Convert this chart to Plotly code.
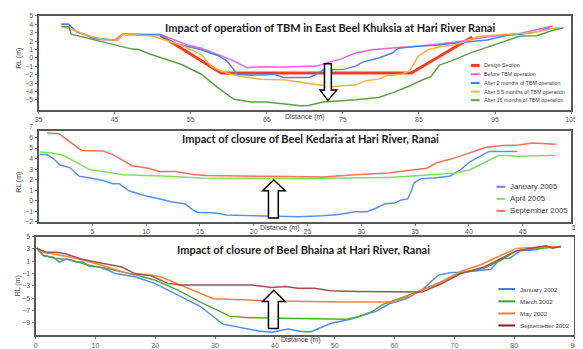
import plotly.graph_objects as go

W, H = 583, 349
OFF = 8  # default page body margin in the browser

# ---------------- Panel 1 data (East Beel Khuksia) ----------------
p1_design_x = [51, 59, 84, 92]
p1_design_y = [2.7, -1.8, -1.8, 2.5]

p1_before_x = [38, 39, 40, 41.5, 43, 45, 46, 51, 52.9, 54.7, 56.4, 58.6, 60.3, 62.4, 64.2, 67.1, 69.4, 71.5, 73.2, 74.5, 76.7, 78.9, 81.0, 85.3, 89.7, 94.0, 98.3, 101.8, 102.6]
p1_before_y = [4.0, 4.0, 3.1, 2.6, 2.2, 2.1, 2.83, 2.8, 2.13, 1.5, 1.16, 0.38, -0.2, -1.16, -1.05, -1.08, -1.05, -0.97, -0.5, -0.2, 0.58, 0.97, 1.16, 1.43, 1.86, 2.52, 2.9, 3.6, 3.8]

p1_m2_x = [38, 38.9, 40, 41.3, 42.1, 43.5, 45.4, 46.1, 51, 52.9, 56.4, 58.6, 59.8, 61.1, 62.9, 65.0, 65.9, 67.2, 70.6, 71.5, 72.4, 75.0, 76.7, 77.6, 79.7, 81.5, 82.3, 84.5, 87.5, 90.5, 94.0, 96.6, 98.3, 100.5, 102.2]
p1_m2_y = [4.0, 4.0, 3.1, 2.75, 2.33, 2.2, 2.1, 2.83, 2.75, 1.74, 0.97, 0.27, -0.38, -1.94, -2.05, -2.0, -1.94, -2.33, -2.33, -1.94, -1.43, -1.36, -0.97, -0.5, 0.0, 0.58, 1.16, 1.36, 1.55, 1.83, 2.13, 2.7, 2.83, 3.1, 3.6]

p1_m55_x = [38, 39.5, 41.7, 43.5, 45.4, 46.1, 50, 54.2, 56.4, 57.7, 59.0, 60.3, 62.0, 64.2, 67.2, 69.4, 71.5, 73.7, 75.8, 76.7, 78.0, 79.7, 80.8, 82.7, 83.8, 84.9, 86.2, 87.9, 89.7, 91.4, 92.7, 94.8, 96.6, 100, 102.6, 103.5]
p1_m55_y = [3.8, 3.36, 2.6, 2.2, 2.1, 2.83, 2.6, 1.36, 0.38, -0.97, -1.55, -1.94, -2.25, -2.52, -2.6, -2.91, -3.17, -3.41, -3.3, -3.2, -2.7, -2.52, -2.13, -1.94, -1.55, 0.2, 0.97, 1.36, 1.55, 2.13, 2.52, 2.7, 2.83, 3.0, 3.5, 3.6]

p1_m16_x = [38, 39, 39.3, 42.1, 44.7, 47.3, 48.2, 49.5, 51.2, 53.8, 56.4, 58.5, 60.7, 62.9, 65.0, 67.2, 69.4, 70.5, 72.4, 76.7, 79.7, 81.5, 83.6, 85.5, 86.6, 87.7, 89.7, 91.8, 94.0, 96.3, 98.3, 100.5, 102.6, 104]
p1_m16_y = [3.7, 3.7, 2.83, 2.2, 1.55, 1.05, 1.0, 0.5, 0.0, -0.78, -1.94, -3.5, -4.92, -5.23, -5.23, -5.43, -5.7, -5.65, -5.23, -4.96, -4.7, -4.15, -3.4, -2.6, -2.2, -0.85, -0.2, 0.6, 1.3, 2.0, 2.6, 2.65, 3.3, 3.6]

p1_names = ["Design Section", "Before TBM operation", "After 2 months of TBM operation",
            "After 5.5 months of TBM operation", "After 16 months of TBM operation"]
p1_colors = ["#FF3B1F", "#F063D8", "#4A86E8", "#FFB040", "#5E9E45"]
p1_series = [(p1_design_x, p1_design_y), (p1_before_x, p1_before_y), (p1_m2_x, p1_m2_y),
             (p1_m55_x, p1_m55_y), (p1_m16_x, p1_m16_y)]
p1_widths = [3, 1.5, 1.5, 1.5, 1.5]
p1_xticks = [35, 45, 55, 65, 75, 85, 95, 105]
p1_yticks = [5, 4, 3, 2, 1, 0, -1, -2, -3, -4, -5]

# ---------------- Panel 2 data (Beel Kedaria) ----------------
p2_jan_x = [0.1, 0.8, 1.4, 2.0, 2.9, 3.8, 4.8, 6.0, 6.9, 7.5, 8.4, 9.9, 11.5, 12.4, 13.6, 14.4, 14.8, 16.3, 17.5, 21.2, 24.2, 26.4, 27.9, 29.4, 30.5, 31.3, 32.2, 33.1, 33.7, 34.3, 34.6, 34.9, 35.5, 36.7, 38.2, 39.2, 40.1, 41.3, 41.9, 43.1, 44.5]
p2_jan_y = [4.38, 4.38, 3.98, 3.39, 3.15, 2.32, 2.17, 1.93, 1.62, 1.62, 0.95, 0.49, 0.12, -0.12, -0.28, -0.89, -1.1, -1.13, -1.35, -1.41, -1.5, -1.41, -1.29, -1.04, -1.04, -0.73, -0.28, -0.21, 0.09, 0.18, 0.79, 1.71, 2.08, 2.17, 2.32, 2.94, 3.7, 4.38, 4.68, 4.68, 4.68]

p2_apr_x = [0.1, 1.1, 2.3, 3.5, 4.8, 6.0, 7.8, 12.1, 15.1, 24.2, 29.4, 32.5, 35.5, 37.9, 38.8, 40.1, 41.6, 42.8, 44.6, 48.0]
p2_apr_y = [4.62, 4.56, 4.31, 3.64, 2.94, 2.78, 2.48, 2.32, 2.17, 2.11, 2.17, 2.2, 2.39, 2.54, 2.63, 2.94, 3.7, 4.31, 4.22, 4.31]

p2_sep_x = [0.8, 1.9, 2.9, 4.0, 6.0, 6.9, 7.8, 8.7, 9.6, 10.2, 11.2, 12.7, 13.6, 14.5, 15.7, 18.1, 20.3, 23.3, 26.4, 29.4, 32.5, 34.9, 36.1, 37.0, 38.5, 40.1, 41.6, 43.1, 44.6, 45.9, 47.1, 48.1]
p2_sep_y = [6.42, 6.36, 5.6, 4.77, 4.71, 4.38, 3.85, 3.33, 3.18, 3.09, 2.78, 2.78, 2.63, 2.48, 2.39, 2.39, 2.32, 2.3, 2.26, 2.48, 2.63, 2.94, 3.09, 3.6, 4.0, 4.56, 5.07, 5.23, 5.29, 5.48, 5.41, 5.35]

p2_names = ["January 2005", "April 2005", "September 2005"]
p2_colors = ["#5B8FEE", "#80E05A", "#FF6F5E"]
p2_series = [(p2_jan_x, p2_jan_y), (p2_apr_x, p2_apr_y), (p2_sep_x, p2_sep_y)]
p2_xticks = [5, 10, 15, 20, 25, 30, 35, 40, 45]
p2_yticks = [6, 5, 4, 3, 2, 1, 0, -1, -2]

# ---------------- Panel 3 data (Beel Bhaina) ----------------
p3_jan_x = [0.2, 1.3, 3.0, 4.0, 5.1, 6.8, 7.9, 9.0, 10.6, 12.2, 13.3, 16.6, 19.9, 23.1, 27.5, 31.3, 34.0, 37.3, 39.5, 42.2, 44.4, 46.0, 49.3, 52.6, 57.0, 59.1, 61.9, 64.6, 67.3, 69.5, 71.1, 73.3, 76.1, 77.7, 79.3, 81.0, 83.7, 85.3, 86.4, 87.8]
p3_jan_y = [3.1, 1.93, 1.66, 0.86, 1.39, 0.86, 0.86, 0.18, 0.07, -0.46, -1.0, -1.52, -2.59, -4.18, -6.3, -9.2, -9.74, -10.3, -10.5, -10.0, -10.38, -10.43, -9.1, -8.41, -7.09, -5.9, -5.07, -3.64, -1.25, -0.84, -0.84, -0.57, -0.3, 1.39, 1.5, 2.72, 2.88, 3.41, 3.25, 3.41]

p3_mar_x = [0.2, 1.3, 3.2, 5.7, 9.0, 12.2, 16.6, 19.9, 23.7, 27.5, 32.4, 35.7, 43.9, 52.0, 54.2, 56.4, 58.0, 60.2, 64.0, 67.9, 71.1, 75.0, 77.7, 80.4, 85.9, 87.8]
p3_mar_y = [3.1, 1.93, 1.5, 1.23, 0.34, -0.2, -1.2, -2.05, -3.64, -5.6, -7.9, -8.15, -8.3, -8.41, -7.9, -7.09, -6.03, -5.23, -3.9, -2.3, -0.84, -0.09, 1.13, 2.72, 3.25, 3.4]

p3_may_x = [0.2, 1.3, 3.9, 6.8, 11.1, 15.5, 19.3, 20.9, 24.2, 29.7, 38.4, 43.9, 50.9, 59.7, 61.3, 64.0, 67.3, 71.1, 74.4, 77.7, 80.4, 85.9, 87.8]
p3_may_y = [3.1, 2.45, 2.0, 1.5, 0.34, -1.0, -1.25, -1.52, -2.84, -5.07, -5.4, -5.5, -5.6, -5.6, -5.07, -3.9, -2.6, -0.62, 0.44, 1.93, 3.09, 3.4, 3.4]

p3_sep_x = [0.2, 1.85, 3.5, 5.1, 7.9, 11.1, 14.4, 16.6, 19.3, 22.1, 24.2, 36.2, 39.5, 41.7, 43.9, 46.6, 49.3, 53.7, 60.8, 61.9, 64.6, 67.9, 71.1, 75.0, 77.7, 80.4, 85.3, 86.4, 87.8]
p3_sep_y = [3.1, 2.45, 2.45, 2.18, 1.29, 0.7, 0.07, -1.0, -1.36, -2.59, -2.84, -2.84, -3.27, -3.1, -3.38, -3.38, -3.8, -3.9, -3.9, -4.0, -4.0, -2.6, -1.0, 0.07, 1.39, 2.72, 3.52, 3.1, 3.4]

p3_names = ["January 2002", "March 2002", "May 2002", "Septemeber 2002"]
p3_colors = ["#4E8DF5", "#55AA33", "#FF7F3F", "#A0504F"]
p3_legend_colors = ["#3C7DF0", "#3FA02A", "#FF7A33", "#8B1A1A"]
p3_series = [(p3_jan_x, p3_jan_y), (p3_mar_x, p3_mar_y), (p3_may_x, p3_may_y), (p3_sep_x, p3_sep_y)]
p3_xticks = [0, 10, 20, 30, 40, 50, 60, 70, 80, 90]
p3_yticks = [5, 3, 1, -1, -3, -5, -7, -9]

titles = ["Impact of operation of TBM in East Beel Khuksia at Hari River Ranai",
          "Impact of closure of Beel Kedaria at Hari River, Ranai",
          "Impact of closure of Beel Bhaina at Hari River, Ranai"]

FW, FH = W - OFF, H - OFF


def fx(p):
    return (p - OFF) / FW


def fy(p):
    return 1 - (p - OFF) / FH


fig = go.Figure()

panels = [
    dict(series=p1_series, colors=p1_colors, widths=p1_widths, names=p1_names),
    dict(series=p2_series, colors=p2_colors, widths=[1.5] * 3, names=p2_names),
    dict(series=p3_series, colors=p3_colors, widths=[1.5] * 4, names=p3_names),
]
for i, pn in enumerate(panels):
    sfx = "" if i == 0 else str(i + 1)
    for (xs, ys), c, w, n in zip(pn["series"], pn["colors"], pn["widths"], pn["names"]):
        fig.add_trace(go.Scatter(x=xs, y=ys, mode="lines", name=n,
                                 line=dict(color=c, width=w),
                                 xaxis="x" + sfx, yaxis="y" + sfx, showlegend=False))

tickfont = dict(family="Liberation Sans", size=7, color="#595959")
axis_common = dict(showline=True, mirror=True, linecolor="#595959", linewidth=2,
                   showgrid=False, zeroline=False, ticks="outside", ticklen=2,
                   tickcolor="#7f7f7f", tickfont=tickfont, fixedrange=True)

doms = [((35, 577), (12, 108)), ((35, 577), (130, 223)), ((32, 580), (238, 339))]
xranges = [[35, 105], [0, 49.5], [0, 90]]
yranges = [[-6.15, 5], [-2, 6.6], [-11, 5]]
xtick_sets = [p1_xticks, p2_xticks, p3_xticks]
ytick_sets = [p1_yticks, p2_yticks, p3_yticks]

layout = dict(width=FW, height=FH, margin=dict(l=0, r=0, t=0, b=0),
              paper_bgcolor="white", plot_bgcolor="white", showlegend=False)
for i in range(3):
    sfx = "" if i == 0 else str(i + 1)
    (x0, x1), (y0, y1) = doms[i]
    layout["xaxis" + sfx] = dict(axis_common, domain=[fx(x0), fx(x1)], range=xranges[i],
                                 tickvals=xtick_sets[i], anchor="y" + sfx)
    layout["yaxis" + sfx] = dict(axis_common, domain=[fy(y1), fy(y0)], range=yranges[i],
                                 tickvals=ytick_sets[i], anchor="x" + sfx)
fig.update_layout(**layout)

ann = []
shapes = []

# titles
title_pos = [(332, 24), (312, 138), (305, 251)]
for t, (cx, cy) in zip(titles, title_pos):
    ann.append(dict(text="<b>" + t + "</b>", x=fx(cx), y=fy(cy), xref="paper", yref="paper",
                    showarrow=False, xanchor="center", yanchor="middle",
                    font=dict(family="Lato", size=11, color="#1a1a1a")))

# axis titles
for cy in [55, 182, 288]:
    ann.append(dict(text="RL (m)", x=fx(15), y=fy(cy), xref="paper", yref="paper",
                    showarrow=False, textangle=-90, xanchor="center", yanchor="middle",
                    font=dict(family="Liberation Sans", size=7, color="#404040")))
for cx, cy in [(306, 116), (281, 229), (302, 344)]:
    ann.append(dict(text="Distance (m)", x=fx(cx), y=fy(cy), xref="paper", yref="paper",
                    showarrow=False, xanchor="center", yanchor="middle",
                    font=dict(family="Liberation Sans", size=7, color="#404040")))

# extra tick labels beyond plotted ranges
ann.append(dict(text="7", x=fx(31), y=fy(125), xref="paper", yref="paper", showarrow=False,
                xanchor="right", yanchor="middle", font=tickfont))
ann.append(dict(text="50", x=fx(576), y=fy(229), xref="paper", yref="paper", showarrow=False,
                xanchor="left", yanchor="middle", font=tickfont))

# manual legends
legends = [
    dict(names=p1_names, colors=p1_colors, x0=475, x1=484, tx=486, ys=[62.7, 71.7, 80.7, 89.5, 98.3],
         size=5.3, lw=[3, 2, 2, 2, 2]),
    dict(names=p2_names, colors=p2_colors, x0=501, x1=510, tx=513, ys=[187, 199.3, 211.7],
         size=7.8, lw=[2, 2, 2]),
    dict(names=p3_names, colors=p3_legend_colors, x0=503, x1=520, tx=523, ys=[291.7, 304.3, 316.7, 329],
         size=6.2, lw=[2, 2, 2, 2]),
]
for lg in legends:
    for n, c, yy, lw in zip(lg["names"], lg["colors"], lg["ys"], lg["lw"]):
        shapes.append(dict(type="line", xref="paper", yref="paper", x0=fx(lg["x0"]), x1=fx(lg["x1"]),
                           y0=fy(yy), y1=fy(yy), line=dict(color=c, width=lw)))
        ann.append(dict(text=n, x=fx(lg["tx"]), y=fy(yy), xref="paper", yref="paper", showarrow=False,
                        xanchor="left", yanchor="middle",
                        font=dict(family="Liberation Sans", size=lg["size"], color="#404040")))


# hollow block arrows
def arrow_path(pts):
    return "M " + " L ".join(f"{fx(a):.5f},{fy(b):.5f}" for a, b in pts) + " Z"


arrows = [
    [(326, 61), (333, 61), (333, 88), (338.5, 88), (329.5, 98.5), (321.5, 88), (326, 88)],
    [(269, 219), (279, 219), (279, 191), (286, 191), (274.5, 180), (263, 191), (269, 191)],
    [(269, 332), (279, 332), (279, 304.5), (286, 304.5), (274.5, 293), (263, 304.5), (269, 304.5)],
]
for pts in arrows:
    shapes.append(dict(type="path", xref="paper", yref="paper", path=arrow_path(pts),
                       fillcolor="white", line=dict(color="black", width=1.5)))

fig.update_layout(annotations=ann, shapes=shapes)
fig.write_html("out.html")
